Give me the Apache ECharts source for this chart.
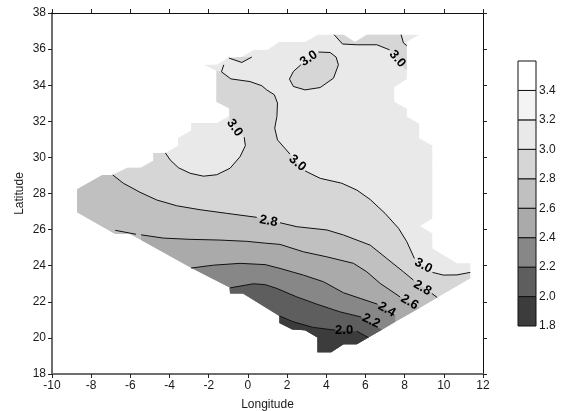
<!DOCTYPE html>
<html>
<head>
<meta charset="utf-8">
<style>html,body{margin:0;padding:0;background:#fff}#c{width:563px;height:411px}</style>
<script src="https://cdn.jsdelivr.net/npm/echarts@6/dist/echarts.min.js"></script>
</head>
<body>
<div id="c"></div>
<script>
// Outline of the mapped region, [lon, lat]
var edgeWestStart = [[-8.72,28.23],[-7.43,29.03],[-6.90,29.03],[-6.15,29.43],[-5.47,29.43],[-4.83,29.82],[-4.83,30.25],[-4.21,30.25]];
var edgeCoastMid = [[-3.57,30.64],[-3.57,31.08],[-2.90,31.49],[-2.90,31.90],[-1.59,31.90]];
var edgeCoastWest = [[-0.95,32.30],[-0.95,32.71],[-1.61,33.09],[-1.61,34.80]];
var edgeNorth = [[-2.25,35.13],[-1.59,35.13],[-0.96,35.56],[-0.31,35.56],[0.28,35.95],[1.00,35.95],[1.59,36.39],[2.92,36.39],[3.57,36.80],[4.88,36.80],[5.47,36.39],[6.07,36.80],[8.74,36.80],[8.11,36.39]];
var edgeEast = [[8.11,34.34],[7.47,33.89],[7.47,33.09],[8.11,32.69],[8.11,32.26],[8.74,31.86],[8.74,31.06],[9.41,30.66],[9.41,26.62],[8.79,26.20],[9.41,25.79],[9.41,24.96],[10.67,24.13],[11.35,24.13]];
var edgeSouth = [[11.35,23.30],[9.66,22.24],[8.76,21.66],[7.52,20.89],[6.84,20.45],[6.15,20.02],[5.56,19.65],[4.88,19.65],[4.25,19.21],[3.55,19.21],[3.55,20.02],[2.92,20.43],[2.27,20.47],[1.61,20.83],[1.61,21.22],[-0.25,22.46],[-0.91,22.46],[-0.95,22.80],[-2.90,23.88],[-5.45,25.42],[-6.02,25.75],[-6.77,25.75],[-8.72,26.96]];

// Contour lines, null marks a gap left for a label
var contour30Main = [[-1.23,35.13],[-1.35,34.74],null,[-1.35,34.74],[-0.87,34.35],[0.11,34.20],[0.71,33.97],[0.96,33.74],[1.35,33.47],[1.51,33.01],[1.48,32.26],[1.37,31.62],[1.51,30.97],[2.15,30.18],null,[2.92,29.25],[3.69,28.84],[4.79,28.57],[5.56,28.19],[6.24,27.67],[7.00,26.90],[7.69,26.07],[8.11,25.33],[8.50,24.40],null,[9.42,23.63],[9.98,23.48],[10.67,23.49],[11.35,23.63]];
var contour30Loop = [[-4.21,30.25],[-3.97,29.86],[-3.55,29.43],[-2.95,29.12],[-2.27,28.96],[-1.59,29.04],[-0.91,29.40],[-0.40,30.04],[-0.13,30.65],[-0.19,31.12],null,[-0.95,32.02]];
var contour30Oval = [[3.60,35.84],[4.20,35.81],[4.50,35.56],[4.62,35.13],[4.37,34.39],[3.69,33.87],[2.92,33.74],[2.32,33.93],[2.12,34.34],[2.32,34.76],[2.70,35.13],null,[3.60,35.84]];
var contour30NE = [[4.40,36.80],[4.83,36.28],[5.56,36.24],[6.58,36.24],[7.23,35.96],null,[8.06,34.85]];
var contour30NEb = [[7.82,36.80],[7.94,36.34],[8.11,36.19]];
var contour30NW = [[-0.96,35.50],[-0.31,35.26],[0.20,35.56]];
var contour28 = [[-6.90,29.03],[-6.36,28.57],[-5.51,28.07],[-4.65,27.64],[-3.63,27.32],[-2.44,27.10],[-1.08,26.90],[0.45,26.68],null,[1.64,26.38],[2.50,26.16],[4.03,25.98],[4.88,25.70],[6.24,25.14],[7.09,24.40],[7.94,23.66],[8.45,23.20],null,[9.39,22.46],[9.66,22.24]];
var contour26West = [[-6.77,25.96],[-5.71,25.74]];
var contour26 = [[-5.45,25.71],[-4.32,25.53],[-2.95,25.46],[-1.42,25.42],[-0.06,25.35],[0.88,25.25],[1.64,25.18],[2.83,24.77],[4.03,24.49],[5.39,24.13],[6.07,23.66],[6.75,23.02],[7.77,22.27],null,[8.76,21.66]];
var contour24 = [[-2.90,23.87],[-1.76,24.03],[-0.40,24.13],[0.88,24.06],[1.64,23.85],[2.83,23.48],[3.86,23.11],[4.88,22.50],[5.73,22.19],[6.61,21.87],null,[7.52,21.26]];
var contour22 = [[-0.91,22.77],[0.28,23.00],[0.88,22.95],[1.48,22.74],[2.50,22.27],[3.52,21.87],[4.71,21.44],[5.78,21.16],null,[6.84,20.45]];
var contour20 = [[1.61,21.22],[2.32,20.89],[3.34,20.58],[4.45,20.43],null,[5.56,20.37],[6.15,20.02]];

// Contour labels: text, lon, lat, slope in degrees
var labelTexts = ['3.0','3.0','3.0','3.0','3.0','2.8','2.8','2.6','2.4','2.2','2.0'];
var labelLon = [-0.68,2.53,3.11,7.63,8.96,1.05,8.91,8.25,7.09,6.29,4.91];
var labelLat = [31.64,29.68,35.48,35.46,24.00,26.47,22.77,21.98,21.57,20.94,20.39];
var labelSlope = [-55,-40,35,-50,-28,-10,-30,-30,-30,-25,0];

// Scale bands
var bandLevels = [1.8,2.0,2.2,2.4,2.6,2.8,3.0,3.2,3.4,3.6];
var bandColors = ['#3c3c3c','#5e5e5e','#878787','#aaaaaa','#c0c0c0','#d6d6d6','#e9e9e9','#f4f4f4','#ffffff'];
var xTicks = {min:-10,max:12,step:2};
var yTicks = {min:18,max:38,step:2};

function solid(a){return a.filter(Boolean);}
var outline = [].concat(edgeWestStart,edgeCoastMid,edgeCoastWest,edgeNorth,edgeEast,edgeSouth);
var regions = [
 {pts:outline,color:bandColors[6]},
 {pts:[].concat(solid(contour30Main).slice(1),edgeSouth,edgeWestStart,solid(contour30Loop),edgeCoastWest),color:bandColors[5]},
 {pts:solid(contour30Oval),color:bandColors[5]},
 {pts:[].concat(solid(contour30NE),[[8.11,34.85]],contour30NEb.slice().reverse(),[[6.07,36.80],[5.47,36.39],[4.88,36.80]]),color:bandColors[5]},
 {pts:[[-0.96,35.50],[-0.31,35.26],[0.20,35.56],[-0.31,35.56]],color:bandColors[5]},
 {pts:[].concat(solid(contour28),edgeSouth.slice(2),[[-8.72,28.23],[-7.43,29.03]]),color:bandColors[4]},
 {pts:[].concat(solid(contour26),edgeSouth.slice(3,20)),color:bandColors[3]},
 {pts:[].concat(solid(contour24),edgeSouth.slice(3,19)),color:bandColors[2]},
 {pts:[].concat(solid(contour22),edgeSouth.slice(5,17)),color:bandColors[1]},
 {pts:[].concat(solid(contour20),edgeSouth.slice(6,14)),color:bandColors[0]}
];
function segments(a){
  var out=[],cur=[];
  a.forEach(function(p){ if(p){cur.push(p);} else {out.push(cur);cur=[];} });
  out.push(cur); return out;
}
var lines = [].concat.apply([],[contour30Main,contour30Loop,contour30Oval,contour30NE,contour30NEb,contour30NW,contour28,contour26West,contour26,contour24,contour22,contour20].map(segments));

var FONT = '"Liberation Sans", Arial, sans-serif';
var TXT = '#1a1a1a';
var GRAY = '#6e6e6e';
function ax(extra){
  var base = {type:'value',splitLine:{show:false},minorTick:{show:false},
    axisTick:{show:true,length:4,lineStyle:{color:'#222',width:1}},
    axisLine:{show:true,onZero:false,lineStyle:{color:'#111',width:1}},
    axisLabel:{show:false}};
  return Object.assign(base,extra);
}
var chart = echarts.init(document.getElementById('c'),null,{renderer:'canvas'});
chart.setOption({
  animation:false,
  backgroundColor:'#ffffff',
  grid:[{left:52,top:13,width:431,height:361,outerBoundsMode:'none'},{left:518,top:61,width:18,height:265,outerBoundsMode:'none'}],
  xAxis:[
    ax({gridIndex:0,position:'bottom',min:xTicks.min,max:xTicks.max,interval:xTicks.step,
      axisLine:{show:true,onZero:false,lineStyle:{color:GRAY,width:2}},
      axisLabel:{show:true,color:TXT,fontFamily:FONT,fontSize:12,margin:6},
      name:'Longitude',nameLocation:'middle',nameGap:25,nameTextStyle:{color:TXT,fontFamily:FONT,fontSize:12}}),
    ax({gridIndex:0,position:'top',min:xTicks.min,max:xTicks.max,interval:xTicks.step}),
    {type:'value',gridIndex:1,min:0,max:1,show:false}
  ],
  yAxis:[
    ax({gridIndex:0,position:'left',min:yTicks.min,max:yTicks.max,interval:yTicks.step,
      axisLine:{show:true,onZero:false,lineStyle:{color:GRAY,width:2}},
      axisLabel:{show:true,color:TXT,fontFamily:FONT,fontSize:12,margin:6},
      name:'Latitude',nameLocation:'middle',nameGap:26,nameMoveOverlap:false,nameRotate:90,nameTextStyle:{color:TXT,fontFamily:FONT,fontSize:12}}),
    ax({gridIndex:0,position:'right',min:yTicks.min,max:yTicks.max,interval:yTicks.step}),
    {type:'value',gridIndex:1,position:'right',min:1.8,max:3.6,interval:0.2,splitLine:{show:false},
      axisLine:{show:false},axisTick:{show:false},
      axisLabel:{show:true,margin:3,color:TXT,fontFamily:FONT,fontSize:12,
        formatter:function(v){return v>3.5?'':v.toFixed(1);}}}
  ],
  series:[
    {type:'custom',xAxisIndex:0,yAxisIndex:0,silent:true,clip:false,z:2,
     data:regions.map(function(r){return r.pts[0];}),
     renderItem:function(params,api){
       var r=regions[params.dataIndex];
       return {type:'polygon',shape:{points:r.pts.map(function(p){return api.coord(p);})},style:{fill:r.color}};
     }},
    {type:'custom',xAxisIndex:0,yAxisIndex:0,silent:true,clip:false,z:3,
     data:lines.map(function(l){return l[0];}),
     renderItem:function(params,api){
       return {type:'polyline',shape:{points:lines[params.dataIndex].map(function(p){return api.coord(p);})},
         style:{fill:null,stroke:'#111',lineWidth:1}};
     }},
    {type:'custom',xAxisIndex:0,yAxisIndex:0,silent:true,clip:false,z:4,
     data:labelLon.map(function(x,i){return [x,labelLat[i]];}),
     renderItem:function(params,api){
       var i=params.dataIndex, c=api.coord([labelLon[i],labelLat[i]]);
       return {type:'text',x:c[0],y:c[1],rotation:labelSlope[i]*Math.PI/180,
         style:{text:labelTexts[i],fill:'#000',font:'bold 13px '+FONT,textAlign:'center',textVerticalAlign:'middle'}};
     }},
    {type:'custom',xAxisIndex:2,yAxisIndex:2,silent:true,clip:false,z:2,
     data:bandColors.map(function(c,i){return [0,bandLevels[i],bandLevels[i+1]];}),
     encode:{x:0,y:[1,2]},
     renderItem:function(params,api){
       var i=params.dataIndex, a=api.coord([0,bandLevels[i]]), b=api.coord([1,bandLevels[i+1]]);
       return {type:'rect',shape:{x:a[0],y:b[1],width:b[0]-a[0],height:a[1]-b[1]},
         style:{fill:bandColors[i],stroke:'#111',lineWidth:1}};
     }}
  ]
});
</script>
</body>
</html>
